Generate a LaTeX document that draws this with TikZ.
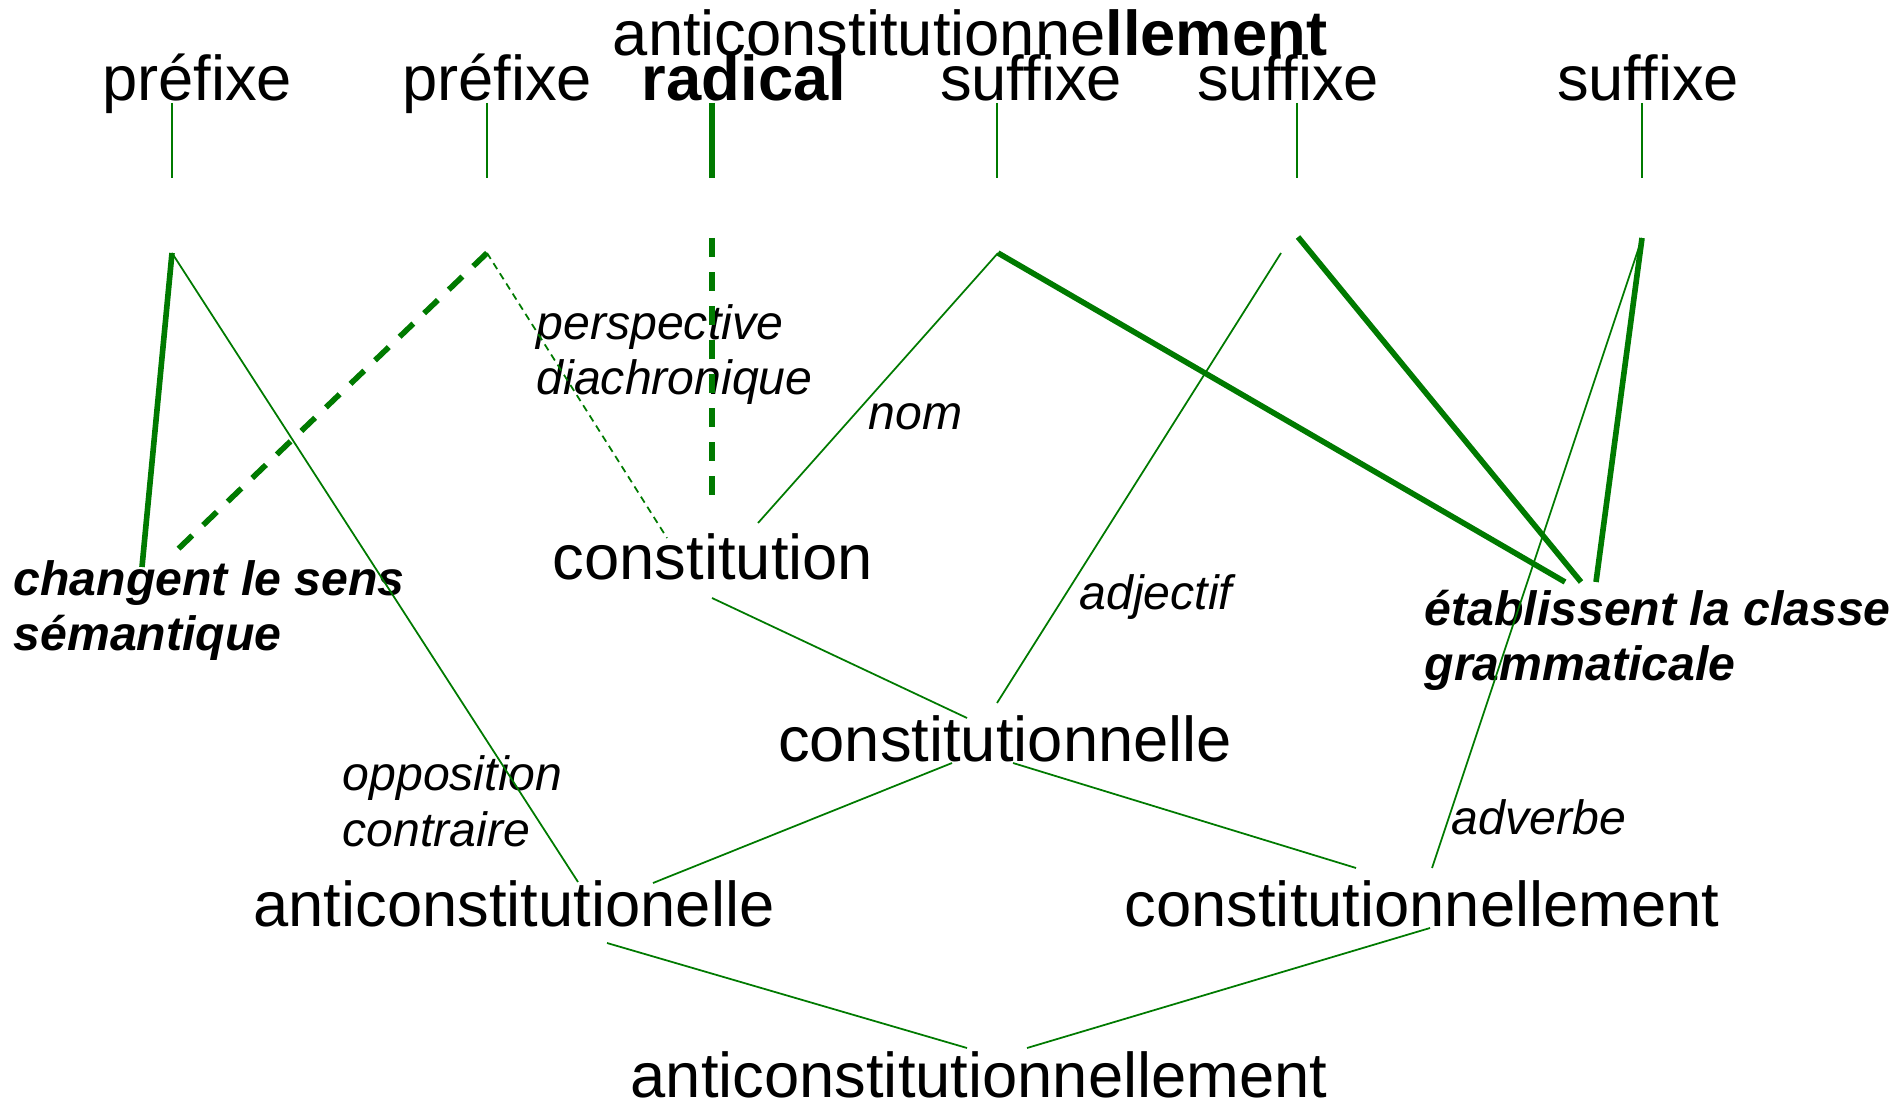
\documentclass[tikz,border=0pt]{standalone}
\usepackage{fontspec}
\setmainfont{Liberation Sans}
\usepackage{tikz}

\definecolor{vert}{RGB}{0,122,0}

\begin{document}
\begin{tikzpicture}
    [x=0.01cm,y=-0.01cm,
     mot/.style={anchor=base,inner sep=0pt,font=\fontsize{18}{20}\selectfont},
     note/.style={anchor=base west,inner sep=0pt,align=left,font=\fontsize{13.7}{15.9}\selectfont\itshape}]
    \tikzstyle{fin}=[draw=vert,line width=0.5pt]
    \tikzstyle{gras}=[draw=vert,line width=1.6pt]
    \tikzstyle{tiret}=[dash pattern=on 0.19cm off 0.15cm]
    \tikzstyle{pointille}=[dash pattern=on 0.07cm off 0.05cm]
    \useasboundingbox (0,0) rectangle (1895,1104);
    \draw (970,56) node[mot](MOT) {anticonstitutionne\textbf{llement}};
    \draw (197,101) node[mot](PREa) {préfixe};
    \draw (497,101) node[mot](PREb) {préfixe};
    \draw (744,101) node[mot,font=\fontsize{18}{20}\selectfont\bfseries](RAD) {radical};
    \draw (1031,101) node[mot](SUFa) {suffixe};
    \draw (1288,101) node[mot](SUFb) {suffixe};
    \draw (1648,101) node[mot](SUFc) {suffixe};
    \draw (713,580) node[mot](CONST) {constitution};
    \draw (1005,761) node[mot](CONSTLLE) {constitutionnelle};
    \draw (514,926) node[mot](ANTILLE) {anticonstitutionelle};
    \draw (1422,926) node[mot](CONSTMENT) {constitutionnellement};
    \draw (979,1097) node[mot](ANTIMENT) {anticonstitutionnellement};
    \draw (13,651) node[note,font=\fontsize{13.7}{15.9}\selectfont\bfseries\itshape](SENS) {changent le sens\\sémantique};
    \draw (1424,681) node[note,font=\fontsize{13.7}{15.9}\selectfont\bfseries\itshape](CLASSE) {établissent la classe\\grammaticale};
    \draw (536,395) node[note](DIACH) {perspective\\diachronique};
    \draw (868,430) node[note](NOM) {nom};
    \draw (1079,610) node[note](ADJ) {adjectif};
    \draw (342,846) node[note](OPPO) {opposition\\contraire};
    \draw (1451,834) node[note](ADV) {adverbe};
    \coordinate (PREaH) at (172,103);
    \coordinate (PREaB) at (172,178);
    \coordinate (PREaT) at (172,253);
    \coordinate (PREbH) at (487,103);
    \coordinate (PREbB) at (487,178);
    \coordinate (PREbT) at (487,253);
    \coordinate (RADH) at (712,103);
    \coordinate (RADB) at (712,178);
    \coordinate (RADT) at (712,238);
    \coordinate (RADF) at (712,508);
    \coordinate (SUFaH) at (997,103);
    \coordinate (SUFaB) at (997,178);
    \coordinate (SUFaT) at (998,253);
    \coordinate (SUFbH) at (1297,103);
    \coordinate (SUFbB) at (1297,178);
    \coordinate (SUFbT) at (1298,237);
    \coordinate (SUFbU) at (1281,253);
    \coordinate (SUFcH) at (1642,103);
    \coordinate (SUFcB) at (1642,178);
    \coordinate (SUFcT) at (1642,238);
    \coordinate (SENSa) at (142,567);
    \coordinate (SENSb) at (174,553);
    \coordinate (CLASa) at (1565,582);
    \coordinate (CLASb) at (1581,582);
    \coordinate (CLASc) at (1596,582);
    \coordinate (CONSTg) at (667,538);
    \coordinate (CONSTd) at (758,523);
    \coordinate (CONSTs) at (712,598);
    \coordinate (CLLEa) at (967,718);
    \coordinate (CLLEb) at (997,703);
    \coordinate (CLLEg) at (952,763);
    \coordinate (CLLEd) at (1013,763);
    \coordinate (ALLEh) at (653,883);
    \coordinate (ALLEo) at (578,882);
    \coordinate (ALLEs) at (607,943);
    \coordinate (CMENTh) at (1356,868);
    \coordinate (CMENTa) at (1432,868);
    \coordinate (CMENTs) at (1430,928);
    \coordinate (AMENTg) at (967,1048);
    \coordinate (AMENTd) at (1027,1048);
    \draw[fin] (PREaH) -- (PREaB);
    \draw[fin] (PREbH) -- (PREbB);
    \draw[gras] (RADH) -- (RADB);
    \draw[fin] (SUFaH) -- (SUFaB);
    \draw[fin] (SUFbH) -- (SUFbB);
    \draw[fin] (SUFcH) -- (SUFcB);
    \draw[gras] (PREaT) -- (SENSa);
    \draw[fin] (PREaT) -- (ALLEo);
    \draw[gras,tiret] (PREbT) -- (SENSb);
    \draw[fin,pointille] (PREbT) -- (CONSTg);
    \draw[gras,tiret] (RADT) -- (RADF);
    \draw[fin] (SUFaT) -- (CONSTd);
    \draw[gras] (SUFaT) -- (CLASa);
    \draw[gras] (SUFbT) -- (CLASb);
    \draw[fin] (SUFbU) -- (CLLEb);
    \draw[gras] (SUFcT) -- (CLASc);
    \draw[fin] (SUFcT) -- (CMENTa);
    \draw[fin] (CONSTs) -- (CLLEa);
    \draw[fin] (CLLEg) -- (ALLEh);
    \draw[fin] (CLLEd) -- (CMENTh);
    \draw[fin] (ALLEs) -- (AMENTg);
    \draw[fin] (CMENTs) -- (AMENTd);
\end{tikzpicture}
\end{document}
